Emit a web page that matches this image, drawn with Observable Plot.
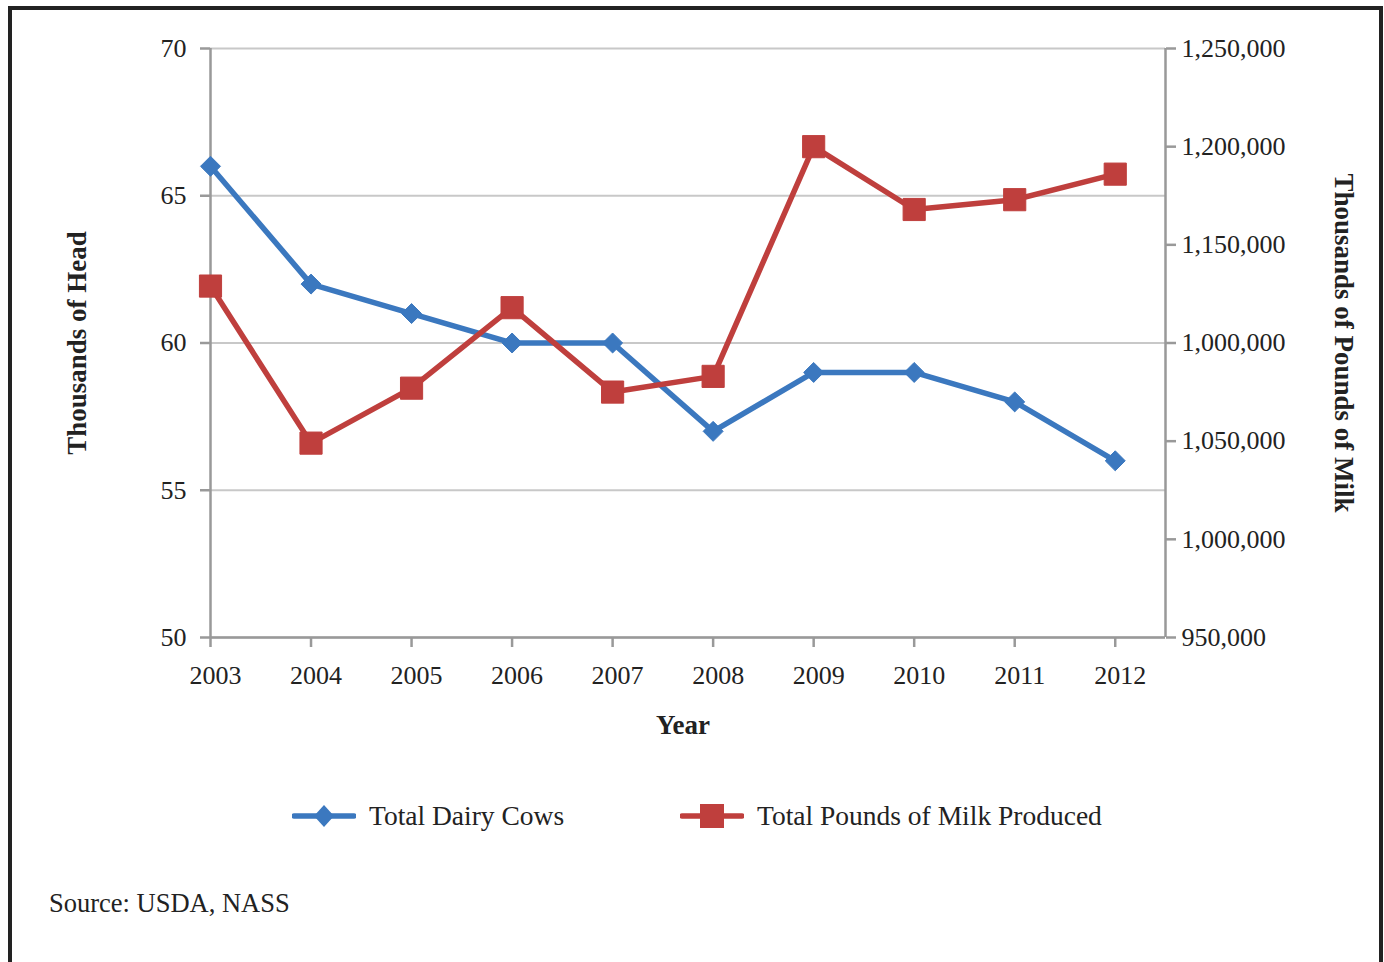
<!DOCTYPE html>
<html>
<head>
<meta charset="utf-8">
<script src="https://cdn.jsdelivr.net/npm/d3@7"></script>
<script src="https://cdn.jsdelivr.net/npm/@observablehq/plot@0.6"></script>
<style>
  html, body { margin: 0; padding: 0; background: #fff; width: 1384px; height: 962px; overflow: hidden; }
  body { position: relative; font-family: "Liberation Serif", "DejaVu Serif", serif; color: #222; }
  #frame { position: absolute; left: 8px; top: 6px; width: 1367px; height: 1000px; border: 4px solid #222; box-sizing: content-box; }
  #chart { position: absolute; left: 0; top: 0; }
  #legend { position: absolute; top: 798px; left: 0; width: 1384px; height: 40px; font-size: 27.5px; }
  .item { position: absolute; top: 0; display: flex; align-items: center; height: 36px; }
  .item svg { margin-right: 13px; }
  #source { position: absolute; left: 49px; top: 888px; font-size: 26.5px; }
</style>
</head>
<body>
<div id="frame"></div>
<div id="chart"></div>
<div id="legend"></div>
<div id="source">Source: USDA, NASS</div>
<script>
const years = [2003, 2004, 2005, 2006, 2007, 2008, 2009, 2010, 2011, 2012];
const dairyCows = [66, 62, 61, 60, 60, 57, 59, 59, 58, 56];
const milkPounds = [1129000, 1049000, 1077000, 1118000, 1075000, 1083000, 1200000, 1168000, 1173000, 1186000];
const leftTicks = [50, 55, 60, 65, 70];
const rightTickValues = [1250000, 1200000, 1150000, 1100000, 1050000, 1000000, 950000];
const rightTickLabels = ["1,250,000", "1,200,000", "1,150,000", "1,000,000", "1,050,000", "1,000,000", "950,000"];
const seriesNames = ["Total Dairy Cows", "Total Pounds of Milk Produced"];
const blue = "#3b78bf";
const red = "#bf3f3d";

const leftDomain = [50, 70];
const rightDomain = [950000, 1250000];
const toLeft = v => leftDomain[0] + (v - rightDomain[0]) / (rightDomain[1] - rightDomain[0]) * (leftDomain[1] - leftDomain[0]);

const cows = years.map((y, i) => ({year: y, value: dairyCows[i]}));
const milk = years.map((y, i) => ({year: y, value: toLeft(milkPounds[i])}));
const rightTicks = rightTickValues.map(toLeft);

const font = "Liberation Serif, DejaVu Serif, serif";

const chart = Plot.plot({
  width: 1384,
  height: 760,
  marginLeft: 210,
  marginRight: 219,
  marginTop: 48,
  marginBottom: 123,
  style: {fontFamily: font, fontSize: "26px", color: "#222", background: "transparent"},
  x: {domain: [2003, 2012.5], axis: null},
  y: {domain: leftDomain, axis: null},
  marks: [
    Plot.gridY(leftTicks, {stroke: "#c8c8c8", strokeOpacity: 1, strokeWidth: 2}),
    Plot.ruleX([2003], {stroke: "#999", strokeWidth: 2.5}),
    Plot.ruleX([2012.5], {stroke: "#999", strokeWidth: 2.5}),
    Plot.ruleY([50], {stroke: "#999", strokeWidth: 2.5}),
    Plot.axisY({anchor: "left", label: null, ticks: leftTicks, tickSize: 10, tickPadding: 14, stroke: "#999", strokeWidth: 2.5, tickFormat: d => String(d), fill: "#222"}),
    Plot.axisY({anchor: "right", label: null, ticks: rightTicks, tickSize: 10, tickPadding: 6, stroke: "#999", strokeWidth: 2.5, tickFormat: (d, i) => rightTickLabels[i], fill: "#222"}),
    Plot.axisX({anchor: "bottom", label: null, ticks: years, tickSize: 10, stroke: "#999", strokeWidth: 2.5, tickFormat: () => ""}),
    Plot.axisX({anchor: "bottom", label: null, ticks: years, tickSize: 0, tickPadding: 28, tickFormat: d => String(d), dx: 5, fill: "#222"}),
    Plot.line(cows, {x: "year", y: "value", stroke: blue, strokeWidth: 5.5}),
    Plot.line(milk, {x: "year", y: "value", stroke: red, strokeWidth: 5.5}),
    Plot.dot(cows, {x: "year", y: "value", symbol: "diamond2", r: 9, fill: blue, stroke: blue, strokeWidth: 1}),
    Plot.dot(milk, {x: "year", y: "value", symbol: "square", r: 12.5, fill: red, stroke: red, strokeWidth: 1}),
    Plot.text(["Thousands of Head"], {frameAnchor: "left", textAnchor: "middle", dx: -133, rotate: -90, fontWeight: "bold", fontSize: 27, fill: "#222"}),
    Plot.text(["Thousands of Pounds of Milk"], {frameAnchor: "right", textAnchor: "middle", dx: 178, rotate: 90, fontWeight: "bold", fontSize: 27, fill: "#222"}),
    Plot.text(["Year"], {frameAnchor: "bottom", dy: 96, dx: -5, fontWeight: "bold", fontSize: 27, fill: "#222"})
  ]
});
document.getElementById("chart").appendChild(chart);

// Legend
const legend = document.getElementById("legend");
const items = [
  {name: seriesNames[0], color: blue, symbol: "diamond", left: 292},
  {name: seriesNames[1], color: red, symbol: "square", left: 680}
];
for (const it of items) {
  const div = document.createElement("div");
  div.className = "item";
  div.style.left = it.left + "px";
  const ns = "http://www.w3.org/2000/svg";
  const svg = document.createElementNS(ns, "svg");
  svg.setAttribute("width", 64);
  svg.setAttribute("height", 36);
  const line = document.createElementNS(ns, "line");
  line.setAttribute("x1", 2); line.setAttribute("x2", 62);
  line.setAttribute("y1", 18); line.setAttribute("y2", 18);
  line.setAttribute("stroke", it.color); line.setAttribute("stroke-width", 5.5);
  line.setAttribute("stroke-linecap", "round");
  svg.appendChild(line);
  const p = document.createElementNS(ns, "path");
  if (it.symbol === "diamond") p.setAttribute("d", "M32,7 L42,18 L32,29 L22,18 Z");
  else p.setAttribute("d", "M20,6 H44 V30 H20 Z");
  p.setAttribute("fill", it.color);
  svg.appendChild(p);
  div.appendChild(svg);
  const span = document.createElement("span");
  span.textContent = it.name;
  div.appendChild(span);
  legend.appendChild(div);
}
</script>
</body>
</html>
